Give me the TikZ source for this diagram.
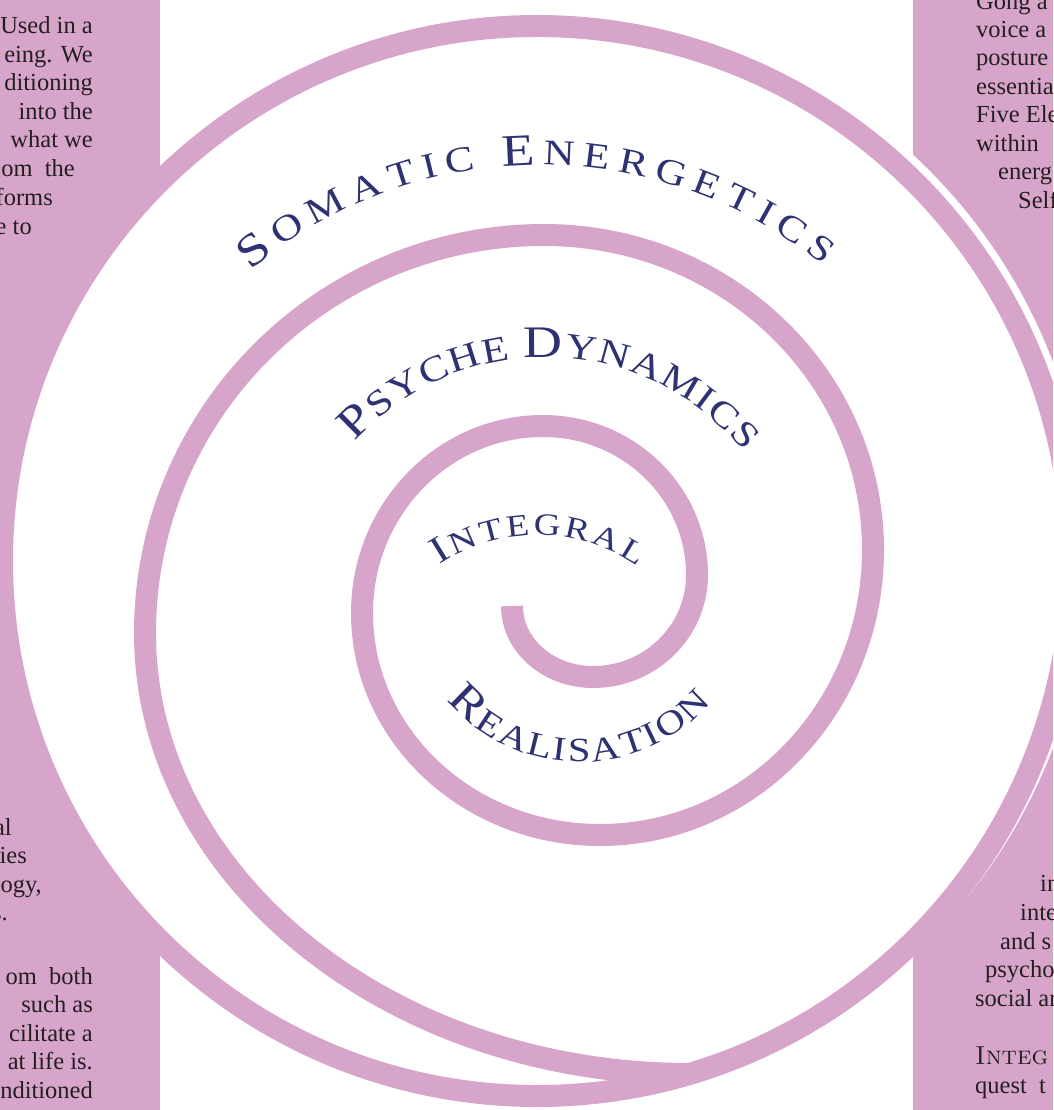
\documentclass[tikz,border=0pt]{standalone}
\usepackage{fontspec}
\newfontfamily\bodyserif{Liberation Serif}
\newfontfamily\titleserif{Liberation Serif}[FakeStretch=1.2]
\usetikzlibrary{decorations.text}
\definecolor{orchid}{RGB}{216,165,202}
\definecolor{inkblue}{RGB}{46,49,114}
\definecolor{bodyink}{RGB}{35,31,32}
\tikzset{
  band/.style={orchid, line width=22pt},
  colline/.style={font=\bodyserif\fontsize{24.5}{29}\selectfont, text=bodyink, inner sep=0pt},
  leftline/.style={colline, anchor=base east},
  rightline/.style={colline, anchor=base west},
}
\newcommand{\arcfont}[1]{\titleserif\fontsize{#1}{#1}\selectfont\color{inkblue}}

\begin{document}
\begin{tikzpicture}[x=1pt, y=-1pt]
  \path[use as bounding box] (0,0) rectangle (1053,1110);
  \clip (0,0) rectangle (1053,1110);
  % Side columns
  \fill[orchid] (0,0) rectangle (160,1110);
  \fill[orchid] (913,0) rectangle (1053,1110);
  % Cut-out round the spiral
  \fill[white] (543,555) circle[radius=545];
  % Outer ring and the spiral
  \draw[band] (537,561) circle[radius=535];
  \draw[band] (512,606)
    \foreach \a/\rx/\ry in {180/81/71, 90/104/102, 0/154/149, -90/181/187,
      -180/238/222, -270/273/285, -360/329/315, -450/399/398, -540/545/441}
    { arc[start angle=\a, delta angle=-90, x radius=\rx, y radius=\ry] };
  % Curved titles
  \path[decorate, decoration={text along path, text align={fit to path},
      text={|\arcfont{45}|S|\arcfont{36}|OMATIC |\arcfont{45}|E|\arcfont{36}|NERGETICS}}]
    ([shift={(-130:450)}]540,615) arc[start angle=-130, end angle=-51, radius=450];
  \path[decorate, decoration={text along path, text align={fit to path},
      text={|\arcfont{45}|P|\arcfont{36}|SYCHE |\arcfont{45}|D|\arcfont{36}|YNAMICS}}]
    ([shift={(-138:256)}]545,613) arc[start angle=-138, end angle=-39, radius=256];
  \path[decorate, decoration={text along path, text align={fit to path},
      text={|\arcfont{38}|I|\arcfont{31}|NTEGRAL}}]
    ([shift={(-124:175)}]537,710) arc[start angle=-124, end angle=-55, radius=175];
  \path[decorate, decoration={text along path, text align={fit to path},
      text={|\arcfont{44}|R|\arcfont{34}|EALISATION}}]
    ([shift={(140:174)}]580,588) arc[start angle=140, end angle=41, radius=174];
  % Left column
  \foreach \t/\x/\y [count=\i] in {Used in a/93/34, eing. We/93/63, ditioning/93/91,
      into the/93/120, what we/93/148, om~~the/75/177, forms/53/205, e to/32/234}
    \node[leftline] (lt\i) at (\x,\y) {\t};
  \foreach \t/\x/\y [count=\i] in {al/12/835, ies/27/863, {logy,}/42/892, s./8/920,
      om~~both/93/984, such as/93/1012, cilitate a/93/1041, at life is./93/1069,
      nditioned/93/1098}
    \node[leftline] (lb\i) at (\x,\y) {\t};
  % Right column
  \foreach \t/\x/\y [count=\i] in {Gong a/976/10, voice a/976/38, posture/976/66,
      essentia/976/95, Five Ele/976/123, within/976/152, energ/998/180, Self/1018/208}
    \node[rightline] (rt\i) at (\x,\y) {\t};
  \foreach \t/\x/\y [count=\i] in {in/1040/891, inte/1020/920, and s/1000/949,
      psycho/985/977, social ar/975/1006, quest~~t/975/1093}
    \node[rightline] (rb\i) at (\x,\y) {\t};
  \node[rightline, font=\fontsize{26}{29}\selectfont\scshape] (integ) at (975,1064) {Integ};
\end{tikzpicture}
\end{document}
